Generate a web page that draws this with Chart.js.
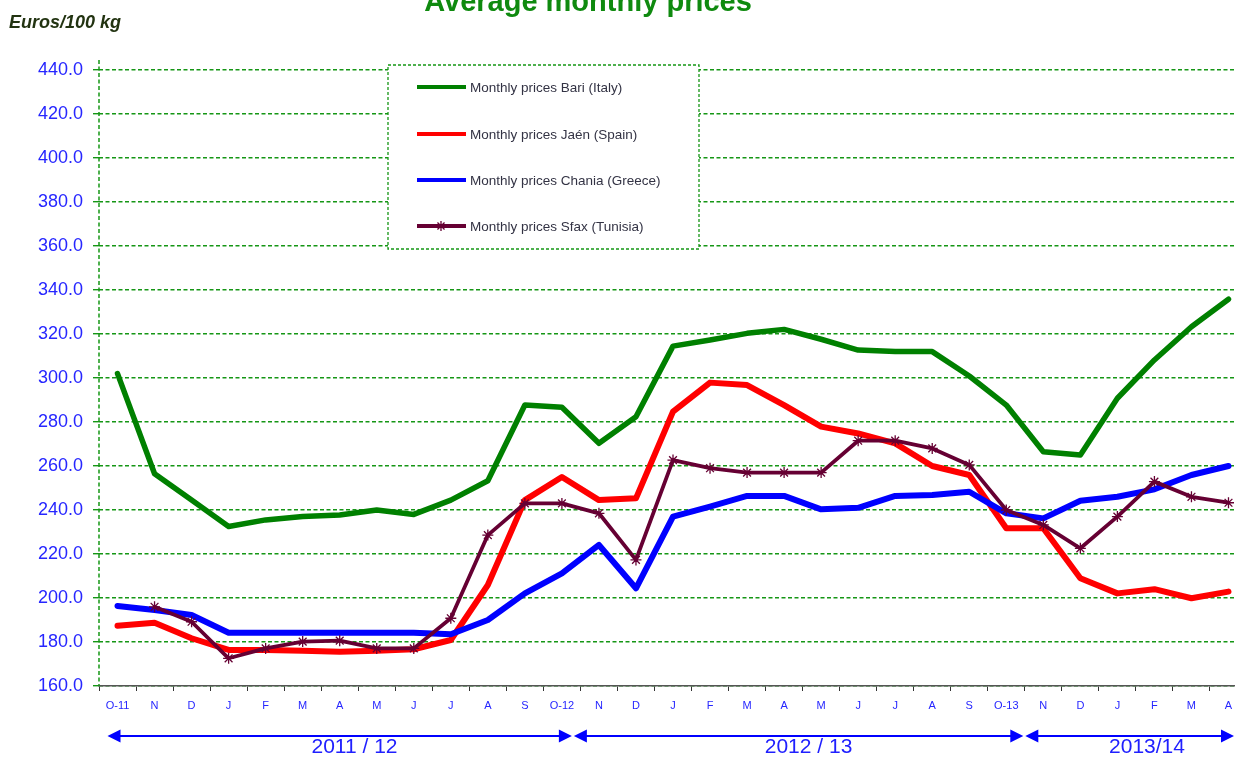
<!DOCTYPE html>
<html>
<head>
<meta charset="utf-8">
<script src="https://cdn.jsdelivr.net/npm/chart.js@4/dist/chart.umd.min.js"></script>
<style>
html,body{margin:0;padding:0;background:#fff;overflow:hidden;}
#wrap{width:1235px;height:757px;overflow:hidden;position:relative;}
</style>
</head>
<body>
<div id="wrap"><canvas id="c" width="1260" height="757" style="width:1260px;height:757px"></canvas></div>
<script>
// ---- data ----
const categories = ['O-11','N','D','J','F','M','A','M','J','J','A','S','O-12','N','D','J','F','M','A','M','J','J','A','S','O-13','N','D','J','F','M','A'];
const bariItaly    = [302, 256.5, 244.5, 232.5, 235.5, 237, 237.7, 240, 238, 244.5, 253.3, 287.7, 286.7, 270.3, 282.4, 314.5, 317.3, 320.3, 322.1, 317.6, 312.7, 312, 312, 300.9, 287.7, 266.5, 265, 290.8, 308.2, 323.3, 335.8];
const jaenSpain    = [187.4, 188.8, 181.7, 176.4, 176.4, 176, 175.6, 176, 176.7, 180.9, 205.9, 244.5, 255, 244.5, 245.3, 284.7, 297.9, 296.8, 287.7, 277.9, 274.8, 270.3, 260, 255.9, 231.7, 231.7, 209, 202.1, 204, 199.9, 202.9];
const chaniaGreece = [196.4, 194.5, 192.3, 184.2, 184.2, 184.2, 184.2, 184.2, 184.2, 183.5, 190, 202.1, 211.2, 224.1, 204.4, 237, 241.5, 246.4, 246.4, 240.3, 241, 246.4, 246.8, 248.3, 238.5, 236.2, 244.2, 246, 249.4, 255.9, 260];
const sfaxTunisia  = [null, 196, 189.2, 172.6, 177.1, 180.2, 180.6, 177.1, 177.1, 190.8, 228.6, 243, 243, 238.5, 217.3, 262.7, 259, 257, 257, 257, 271.5, 271.5, 268, 260.5, 240, 233.2, 222.6, 237, 252.9, 246, 243.3];
const seriesNames  = ['Monthly prices Bari (Italy)','Monthly prices Jaén (Spain)','Monthly prices Chania (Greece)','Monthly prices Sfax (Tunisia)'];
const seasons = ['2011 / 12','2012 / 13','2013/14'];
const yMin = 160, yMax = 440, yStep = 20;
const chartTitle = 'Average monthly prices';
const unitLabel = 'Euros/100 kg';

// ---- styles ----
const GRID = '#159615';
const BLUE_TXT = '#2626ff';
const colors = ['#008000','#ff0000','#0000ff','#660033'];
const FONT = '"Liberation Sans", Arial, sans-serif';

const decor = {
  id: 'decor',
  beforeDatasetsDraw(chart) {
    const {ctx, chartArea: a} = chart;
    ctx.save();
    // dashed vertical axis line
    ctx.strokeStyle = GRID; ctx.lineWidth = 1.5; ctx.setLineDash([4,2.5]);
    ctx.beginPath(); ctx.moveTo(Math.round(a.left), 60); ctx.lineTo(Math.round(a.left), a.bottom); ctx.stroke();
    ctx.setLineDash([]);
    // legend box
    const bx = 388, by = 65, bw = 311, bh = 184;
    ctx.fillStyle = '#fff'; ctx.fillRect(bx, by, bw, bh);
    ctx.setLineDash([3,2]); ctx.strokeStyle = GRID; ctx.lineWidth = 1.3;
    ctx.strokeRect(bx, by, bw, bh);
    ctx.setLineDash([]);
    const ys = [87, 134, 180, 226];
    ctx.font = '13.5px ' + FONT; ctx.textBaseline = 'middle'; ctx.textAlign = 'left';
    seriesNames.forEach((n, i) => {
      const y = ys[i];
      ctx.strokeStyle = colors[i]; ctx.lineWidth = 4; ctx.lineCap = 'butt';
      ctx.beginPath(); ctx.moveTo(417, y); ctx.lineTo(466, y); ctx.stroke();
      if (i === 3) {
        ctx.lineWidth = 1.3;
        const r = 5, cx = 441;
        ctx.beginPath();
        for (let k = 0; k < 4; k++) {
          const ang = k * Math.PI / 4;
          ctx.moveTo(cx - r * Math.cos(ang), y - r * Math.sin(ang));
          ctx.lineTo(cx + r * Math.cos(ang), y + r * Math.sin(ang));
        }
        ctx.stroke();
      }
      ctx.fillStyle = '#333344';
      ctx.fillText(n, 470, y + 1);
    });
    ctx.restore();
  },
  afterDraw(chart) {
    const {ctx} = chart;
    const x = chart.scales.x;
    ctx.save();
    // title
    ctx.font = 'bold 29px ' + FONT; ctx.fillStyle = '#0f8a0f';
    ctx.textAlign = 'center'; ctx.textBaseline = 'alphabetic';
    ctx.fillText(chartTitle, 588, 11);
    // unit
    ctx.font = 'italic bold 18px ' + FONT; ctx.fillStyle = '#223311';
    ctx.textAlign = 'left';
    ctx.fillText(unitLabel, 9, 28);
    // season arrows
    const ay = 736;
    const p = v => x.getPixelForValue(v);
    const spans = [
      [p(0) - 10, p(12) + 10, p(6.4)],
      [p(12) + 12, p(24) + 17, p(18.66)],
      [p(24) + 19, 1234, p(27.8)]
    ];
    ctx.strokeStyle = '#0000ff'; ctx.fillStyle = '#0000ff'; ctx.lineWidth = 2;
    spans.forEach((s, i) => {
      const [x1, x2, lx] = s;
      ctx.beginPath(); ctx.moveTo(x1 + 8, ay); ctx.lineTo(x2 - 8, ay); ctx.stroke();
      ctx.beginPath(); ctx.moveTo(x1, ay); ctx.lineTo(x1 + 13, ay - 6.5); ctx.lineTo(x1 + 13, ay + 6.5); ctx.closePath(); ctx.fill();
      ctx.beginPath(); ctx.moveTo(x2, ay); ctx.lineTo(x2 - 13, ay - 6.5); ctx.lineTo(x2 - 13, ay + 6.5); ctx.closePath(); ctx.fill();
      ctx.font = '21px ' + FONT; ctx.fillStyle = '#2020ff'; ctx.textAlign = 'center'; ctx.textBaseline = 'middle';
      ctx.fillText(seasons[i], lx, 747);
      ctx.fillStyle = '#0000ff';
    });
    ctx.restore();
  }
};

const ds = (label, data, i, extra) => Object.assign({
  label, data,
  borderColor: colors[i], backgroundColor: colors[i],
  borderWidth: 5.5, pointRadius: 0, tension: 0,
  borderJoinStyle: 'round', borderCapStyle: 'round',
  spanGaps: false, order: 4 - i
}, extra || {});

new Chart(document.getElementById('c'), {
  type: 'line',
  data: {
    labels: categories,
    datasets: [
      ds(seriesNames[0], bariItaly, 0),
      ds(seriesNames[1], jaenSpain, 1, {borderWidth: 6}),
      ds(seriesNames[2], chaniaGreece, 2, {borderWidth: 6}),
      ds(seriesNames[3], sfaxTunisia, 3, {borderWidth: 3.8, pointStyle: 'star', pointRadius: 5.5, pointBorderWidth: 1.3, pointBorderColor: colors[3]})
    ]
  },
  options: {
    responsive: false, animation: false, devicePixelRatio: 1,
    layout: {padding: {left: 0, right: 13, top: 70, bottom: 0}},
    plugins: {legend: {display: false}, title: {display: false}, tooltip: {enabled: false}},
    scales: {
      x: {
        type: 'category', offset: true,
        grid: {display: true, drawOnChartArea: false, drawTicks: true, tickLength: 5, color: '#333', offset: true},
        border: {display: true, color: '#555', width: 1.5},
        ticks: {color: BLUE_TXT, font: {size: 11, family: FONT}, padding: 8, maxRotation: 0, autoSkip: false},
        afterFit(s) { s.height = 71; }
      },
      y: {
        min: yMin, max: yMax,
        ticks: {stepSize: yStep, color: BLUE_TXT, font: {size: 18, family: FONT}, padding: 10, callback: v => v.toFixed(1)},
        grid: {color: GRID, lineWidth: 1.4, tickLength: 6, tickColor: GRID},
        border: {display: false, dash: [4, 2.5]},
        afterFit(s) { s.width = 99; }
      }
    }
  },
  plugins: [decor]
});
</script>
</body>
</html>
